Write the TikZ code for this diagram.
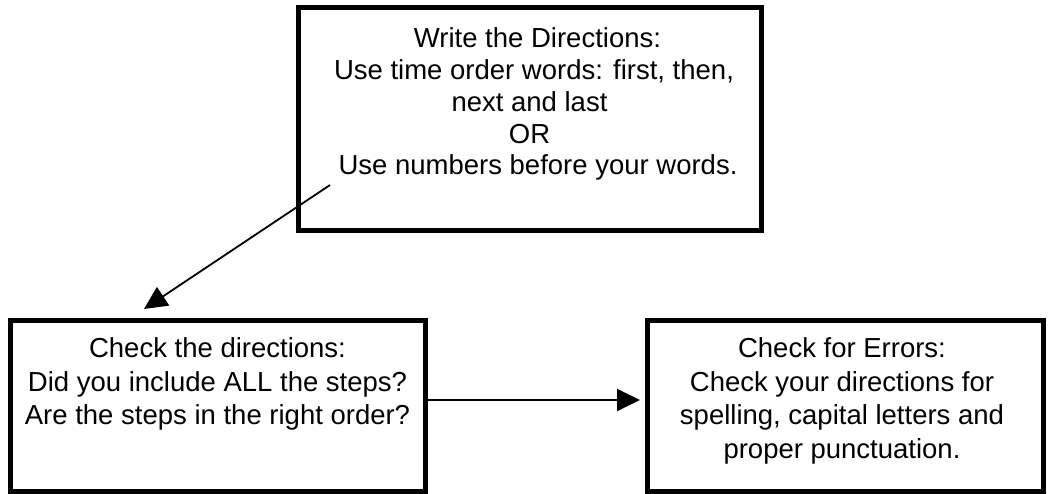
\documentclass[tikz,border=0pt]{standalone}
\usepackage{fontspec}
\setmainfont{Liberation Sans}
\usetikzlibrary{arrows.meta,calc}
\tikzset{
  box/.style={draw=black, line width=5pt, inner sep=0pt, outer sep=0pt, fill=none},
  txt/.style={align=center, inner sep=0pt, outer sep=0pt, anchor=north, font=\fontsize{27.5pt}{31.75pt}\selectfont},
  txtb/.style={txt, font=\fontsize{27.5pt}{33.5pt}\selectfont},
  arr/.style={draw=black, line width=1.8pt, -{Triangle[length=23pt,width=22pt]}}
}
\begin{document}
\begin{tikzpicture}[x=1pt,y=-1pt]
\useasboundingbox[fill=white] (0,0) rectangle (1050,493);
% boxes
\node[box, minimum width=463pt, minimum height=223pt] (b1) at (529.5,118.5) {};
\node[box, minimum width=415pt, minimum height=171pt] (b2) at (217.5,405.5) {};
\node[box, minimum width=396pt, minimum height=171pt] (b3) at (845,405.5) {};
% texts
\node[txt] (t1) at (529.5,28) {\hspace*{16pt}Write the Directions:\\
\hspace*{9pt}Use time order words: first, then,\\
next and last\\
OR\\
\hspace*{17pt}Use numbers before your words.};
\node[txtb] (t2) at (217.5,338) {Check the directions:\\
Did you include ALL the steps?\\
Are the steps in the right order?};
\node[txtb] (t3) at (842,338) {Check for Errors:\\
Check your directions for\\
spelling, capital letters and\\
proper punctuation.};
% connectors
\coordinate (a1s) at (330,185);
\draw[arr] (a1s) -- ($(b2.north west)+(134,-11)$);
\draw[arr] ($(b2.east)+(0,-5.5)$) -- ($(b3.west)+(-7,-5.5)$);
\end{tikzpicture}
\end{document}
